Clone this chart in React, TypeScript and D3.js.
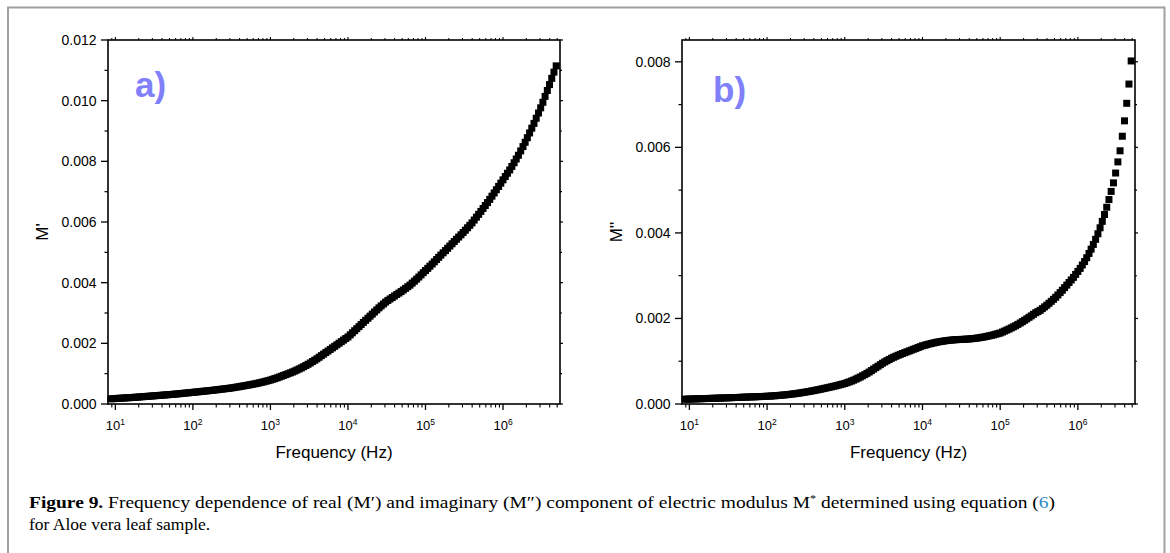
import React from 'react';
import * as d3 from 'd3';

// Swept measurement frequencies (Hz), 35 points per decade
const FREQ_HZ = [
  8.77, 9.36,
  10.0, 10.7, 11.4, 12.2, 13.0, 13.9, 14.8, 15.8, 16.9, 18.1, 19.3, 20.6, 22.0, 23.5, 25.1, 26.8, 28.7, 30.6, 32.7, 34.9, 37.3, 39.8, 42.5, 45.4, 48.5, 51.8, 55.3, 59.1, 63.1, 67.4, 72.0, 76.9, 82.1, 87.7, 93.6,
  100, 107, 114, 122, 130, 139, 148, 158, 169, 181, 193, 206, 220, 235, 251, 268, 287, 306, 327, 349, 373, 398, 425, 454, 485, 518, 553, 591, 631, 674, 720, 769, 821, 877, 936,
  1.00e3, 1.07e3, 1.14e3, 1.22e3, 1.30e3, 1.39e3, 1.48e3, 1.58e3, 1.69e3, 1.81e3, 1.93e3, 2.06e3, 2.20e3, 2.35e3, 2.51e3, 2.68e3, 2.87e3, 3.06e3, 3.27e3, 3.49e3, 3.73e3, 3.98e3, 4.25e3, 4.54e3, 4.85e3, 5.18e3, 5.53e3, 5.91e3, 6.31e3, 6.74e3, 7.20e3, 7.69e3, 8.21e3, 8.77e3, 9.36e3,
  1.00e4, 1.07e4, 1.14e4, 1.22e4, 1.30e4, 1.39e4, 1.48e4, 1.58e4, 1.69e4, 1.81e4, 1.93e4, 2.06e4, 2.20e4, 2.35e4, 2.51e4, 2.68e4, 2.87e4, 3.06e4, 3.27e4, 3.49e4, 3.73e4, 3.98e4, 4.25e4, 4.54e4, 4.85e4, 5.18e4, 5.53e4, 5.91e4, 6.31e4, 6.74e4, 7.20e4, 7.69e4, 8.21e4, 8.77e4, 9.36e4,
  1.00e5, 1.07e5, 1.14e5, 1.22e5, 1.30e5, 1.39e5, 1.48e5, 1.58e5, 1.69e5, 1.81e5, 1.93e5, 2.06e5, 2.20e5, 2.35e5, 2.51e5, 2.68e5, 2.87e5, 3.06e5, 3.27e5, 3.49e5, 3.73e5, 3.98e5, 4.25e5, 4.54e5, 4.85e5, 5.18e5, 5.53e5, 5.91e5, 6.31e5, 6.74e5, 7.20e5, 7.69e5, 8.21e5, 8.77e5, 9.36e5,
  1.00e6, 1.07e6, 1.14e6, 1.22e6, 1.30e6, 1.39e6, 1.48e6, 1.58e6, 1.69e6, 1.81e6, 1.93e6, 2.06e6, 2.20e6, 2.35e6, 2.51e6, 2.68e6, 2.87e6, 3.06e6, 3.27e6, 3.49e6, 3.73e6, 3.98e6, 4.25e6, 4.54e6, 4.85e6,
];

// Real part of the electric modulus, M'
const M_REAL = [
  0.000171, 0.000176,
  0.000180, 0.000185, 0.000189, 0.000194, 0.000198, 0.000203, 0.000207, 0.000212, 0.000217, 0.000222, 0.000227, 0.000233, 0.000239, 0.000244, 0.000250, 0.000256, 0.000261, 0.000267, 0.000273, 0.000279, 0.000284, 0.000290, 0.000296, 0.000301, 0.000307, 0.000313, 0.000320, 0.000326, 0.000333, 0.000340, 0.000348, 0.000355, 0.000363, 0.000370, 0.000378,
  0.000385, 0.000392, 0.000400, 0.000407, 0.000415, 0.000422, 0.000430, 0.000437, 0.000445, 0.000454, 0.000462, 0.000471, 0.000480, 0.000489, 0.000498, 0.000507, 0.000516, 0.000525, 0.000536, 0.000548, 0.000560, 0.000572, 0.000585, 0.000598, 0.000611, 0.000624, 0.000638, 0.000652, 0.000666, 0.000682, 0.000698, 0.000714, 0.000732, 0.000751, 0.000771,
  0.000790, 0.000814, 0.000838, 0.000862, 0.000888, 0.000915, 0.000942, 0.000969, 0.000998, 0.001027, 0.001056, 0.001087, 0.001121, 0.001156, 0.00119, 0.00123, 0.00127, 0.00131, 0.001353, 0.001399, 0.001444, 0.00149, 0.001541, 0.001593, 0.001644, 0.001696, 0.001747, 0.001799, 0.00185, 0.001901, 0.001953, 0.002004, 0.002056, 0.002107, 0.002159,
  0.00221, 0.002279, 0.002347, 0.002416, 0.002484, 0.002553, 0.002621, 0.00269, 0.002759, 0.002827, 0.002896, 0.002964, 0.003033, 0.003101, 0.00317, 0.003233, 0.003296, 0.003359, 0.003414, 0.003463, 0.003511, 0.00356, 0.003609, 0.003657, 0.003706, 0.003757, 0.003812, 0.003866, 0.00392, 0.003986, 0.004051, 0.004117, 0.004186, 0.004257, 0.004329,
  0.0044, 0.004471, 0.004543, 0.004614, 0.004687, 0.004762, 0.004836, 0.00491, 0.004984, 0.005058, 0.005133, 0.005207, 0.005282, 0.005356, 0.00543, 0.005504, 0.005578, 0.005653, 0.00573, 0.00581, 0.00589, 0.00597, 0.006064, 0.006159, 0.006253, 0.006349, 0.006446, 0.006543, 0.00664, 0.006746, 0.006851, 0.006957, 0.007064, 0.007173, 0.007281,
  0.00739, 0.007499, 0.007607, 0.007716, 0.007831, 0.007954, 0.008077, 0.0082, 0.008343, 0.008486, 0.008629, 0.008779, 0.008936, 0.009093, 0.00925, 0.009421, 0.009593, 0.009764, 0.009947, 0.010142, 0.010336, 0.01053, 0.010736, 0.010941, 0.011147,
];

// Imaginary part of the electric modulus, M''
const M_IMAG = [
  0.000112, 0.000114,
  0.000115, 0.000117, 0.000118, 0.000120, 0.000122, 0.000124, 0.000125, 0.000127, 0.000129, 0.000130, 0.000132, 0.000134, 0.000136, 0.000137, 0.000139, 0.000141, 0.000142, 0.000144, 0.000146, 0.000148, 0.000150, 0.000152, 0.000154, 0.000156, 0.000158, 0.000160, 0.000162, 0.000164, 0.000166, 0.000168, 0.000170, 0.000172, 0.000174, 0.000176, 0.000179,
  0.000181, 0.000184, 0.000188, 0.000191, 0.000195, 0.000199, 0.000204, 0.000208, 0.000213, 0.000219, 0.000224, 0.000230, 0.000237, 0.000244, 0.000251, 0.000259, 0.000268, 0.000276, 0.000285, 0.000294, 0.000304, 0.000313, 0.000324, 0.000334, 0.000345, 0.000356, 0.000367, 0.000379, 0.000390, 0.000402, 0.000414, 0.000426, 0.000439, 0.000453, 0.000466,
  0.00048, 0.000499, 0.000517, 0.000536, 0.000557, 0.000581, 0.000606, 0.00063, 0.000659, 0.000687, 0.000716, 0.000747, 0.000781, 0.000816, 0.00085, 0.000884, 0.000919, 0.000953, 0.000984, 0.001013, 0.001041, 0.00107, 0.001093, 0.001116, 0.001139, 0.00116, 0.00118, 0.0012, 0.00122, 0.00124, 0.00126, 0.00128, 0.0013, 0.00132, 0.00134,
  0.00136, 0.001374, 0.001389, 0.001403, 0.001416, 0.001427, 0.001439, 0.00145, 0.001459, 0.001467, 0.001476, 0.001483, 0.001489, 0.001494, 0.0015, 0.001503, 0.001506, 0.001509, 0.001511, 0.001514, 0.001517, 0.00152, 0.001526, 0.001531, 0.001537, 0.001544, 0.001553, 0.001561, 0.00157, 0.001581, 0.001593, 0.001604, 0.001617, 0.001631, 0.001646,
  0.00166, 0.001683, 0.001706, 0.001729, 0.001753, 0.001779, 0.001804, 0.00183, 0.001861, 0.001893, 0.001924, 0.001957, 0.001991, 0.002026, 0.00206, 0.002097, 0.002134, 0.00216, 0.00219, 0.00223, 0.00227, 0.00231, 0.002355, 0.0024, 0.002447, 0.002495, 0.00255, 0.002605, 0.00266, 0.00272, 0.00278, 0.00284, 0.0029, 0.00296, 0.00303,
  0.0031, 0.00317, 0.00325, 0.00333, 0.00342, 0.00352, 0.00362, 0.00373, 0.00385, 0.00398, 0.00412, 0.00427, 0.00443, 0.0046, 0.00478, 0.00497, 0.00517, 0.0054, 0.00566, 0.00592, 0.00626, 0.00662, 0.00703, 0.00748, 0.00802,
];

const X_DECADES = [1, 2, 3, 4, 5, 6];
const REAL_Y_TICKS = [0, 0.002, 0.004, 0.006, 0.008, 0.01, 0.012];
const IMAG_Y_TICKS = [0, 0.002, 0.004, 0.006, 0.008];

const SANS = 'Liberation Sans, Arial, Helvetica, sans-serif';
const SERIF = 'Liberation Serif, Times New Roman, serif';
const TAG_COLOR = '#8080fa';
const X_DOMAIN: [number, number] = [Math.pow(10, 0.905), Math.pow(10, 6.735)];
const fmtY = d3.format('.3f');

type PanelProps = {
  x0: number;
  x1: number;
  y0: number;
  y1: number;
  yMax: number;
  yTicks: number[];
  values: number[];
  yTitle: string;
  tag: string;
  tagX: number;
  tagY: number;
};

function Panel({ x0, x1, y0, y1, yMax, yTicks, values, yTitle, tag, tagX, tagY }: PanelProps) {
  const x = d3.scaleLog().domain(X_DOMAIN).range([x0, x1]);
  const y = d3.scaleLinear().domain([0, yMax]).range([y1, y0]);

  const minorY = d3.range(0.001, yMax, 0.002);
  const minorX: number[] = [];
  for (let e = 0; e <= 6; e++) {
    for (let m = 2; m <= 9; m++) {
      const v = m * Math.pow(10, e);
      if (v >= X_DOMAIN[0] && v <= X_DOMAIN[1]) minorX.push(v);
    }
  }
  const n = Math.min(FREQ_HZ.length, values.length);
  const pts = d3.range(n).map((i) => [FREQ_HZ[i], values[i]] as [number, number]);
  const sq = 7;
  const axisW = 1.6;

  return (
    <g>
      {/* data markers */}
      {pts.map(([f, v], i) => (
        <rect key={i} x={x(f) - sq / 2} y={y(v) - sq / 2} width={sq} height={sq} fill="#000" />
      ))}

      {/* frame */}
      <rect x={x0} y={y0} width={x1 - x0} height={y1 - y0} fill="none" stroke="#000" strokeWidth={axisW} />

      {/* left axis ticks + labels */}
      {yTicks.map((t) => (
        <g key={'yl' + t}>
          <line x1={x0 - 7} x2={x0} y1={y(t)} y2={y(t)} stroke="#000" strokeWidth={1.3} />
          <text x={x0 - 11.5} y={y(t)} dy="0.36em" textAnchor="end" fontFamily={SANS} fontSize={14} fill="#000">
            {fmtY(t)}
          </text>
          <line x1={x1} x2={x1 + 3} y1={y(t)} y2={y(t)} stroke="#000" strokeWidth={1.2} />
        </g>
      ))}
      {minorY.map((t) => (
        <g key={'ym' + t}>
          <line x1={x0 - 3.5} x2={x0} y1={y(t)} y2={y(t)} stroke="#000" strokeWidth={1.2} />
          <line x1={x1} x2={x1 + 2} y1={y(t)} y2={y(t)} stroke="#000" strokeWidth={1.1} />
        </g>
      ))}

      {/* bottom axis ticks + labels */}
      {X_DECADES.map((e) => {
        const px = x(Math.pow(10, e));
        return (
          <g key={'xd' + e}>
            <line x1={px} x2={px} y1={y1} y2={y1 + 6} stroke="#000" strokeWidth={1.3} />
            <line x1={px} x2={px} y1={y0} y2={y0 - 3} stroke="#000" strokeWidth={1.1} />
            <text x={px} y={430} textAnchor="middle" fontFamily={SANS} fontSize={13} fill="#000">
              10
              <tspan dy={-5} fontSize={8.5}>
                {e}
              </tspan>
            </text>
          </g>
        );
      })}
      {minorX.map((v) => {
        const px = x(v);
        return (
          <g key={'xm' + v}>
            <line x1={px} x2={px} y1={y1} y2={y1 + 3.5} stroke="#000" strokeWidth={1.1} />
            <line x1={px} x2={px} y1={y0} y2={y0 - 2} stroke="#000" strokeWidth={1} />
          </g>
        );
      })}

      {/* axis titles */}
      <text x={(x0 + x1) / 2} y={458} textAnchor="middle" fontFamily={SANS} fontSize={17} fill="#000">
        Frequency (Hz)
      </text>
      <text
        transform={`translate(${x0 - 60},232) rotate(-90)`}
        textAnchor="middle"
        fontFamily={SANS}
        fontSize={17}
        fill="#000"
      >
        {yTitle}
      </text>

      {/* panel tag */}
      <text x={tagX} y={tagY} fontFamily={SANS} fontSize={35} fontWeight="bold" fill={TAG_COLOR}>
        {tag}
      </text>
    </g>
  );
}

export default function App() {
  return (
    <svg
      width={1170}
      height={553}
      viewBox="0 0 1170 553"
      style={{ position: 'absolute', left: 0, top: 0, background: '#fff' }}
    >
      <rect x={0} y={0} width={1170} height={553} fill="#fff" />
      <path d="M8,560 V7.5 H1164.5 V560" fill="none" stroke="#a0a0a0" strokeWidth={2} />

      <Panel
        x0={108}
        x1={560}
        y0={40}
        y1={404}
        yMax={0.012}
        yTicks={REAL_Y_TICKS}
        values={M_REAL}
        yTitle="M'"
        tag="a)"
        tagX={135}
        tagY={97}
      />
      <Panel
        x0={682}
        x1={1135}
        y0={40}
        y1={404}
        yMax={0.00851}
        yTicks={IMAG_Y_TICKS}
        values={M_IMAG}
        yTitle="M''"
        tag="b)"
        tagX={713}
        tagY={102}
      />

      <text
        x={29}
        y={508}
        fontFamily={SERIF}
        fontSize={17.5}
        fill="#000"
        textLength={1026}
        lengthAdjust="spacingAndGlyphs"
      >
        <tspan fontWeight="bold">Figure 9.</tspan>
        {' Frequency dependence of real (M\u2032) and imaginary (M\u2033) component of electric modulus M'}
        <tspan dy={-6} fontSize={11}>
          *
        </tspan>
        <tspan dy={6}>{' determined using equation ('}</tspan>
        <tspan fill="#2a8bc9">6</tspan>
        <tspan>)</tspan>
      </text>
      <text x={29} y={530} fontFamily={SERIF} fontSize={17.5} fill="#000">
        for Aloe vera leaf sample.
      </text>
    </svg>
  );
}
